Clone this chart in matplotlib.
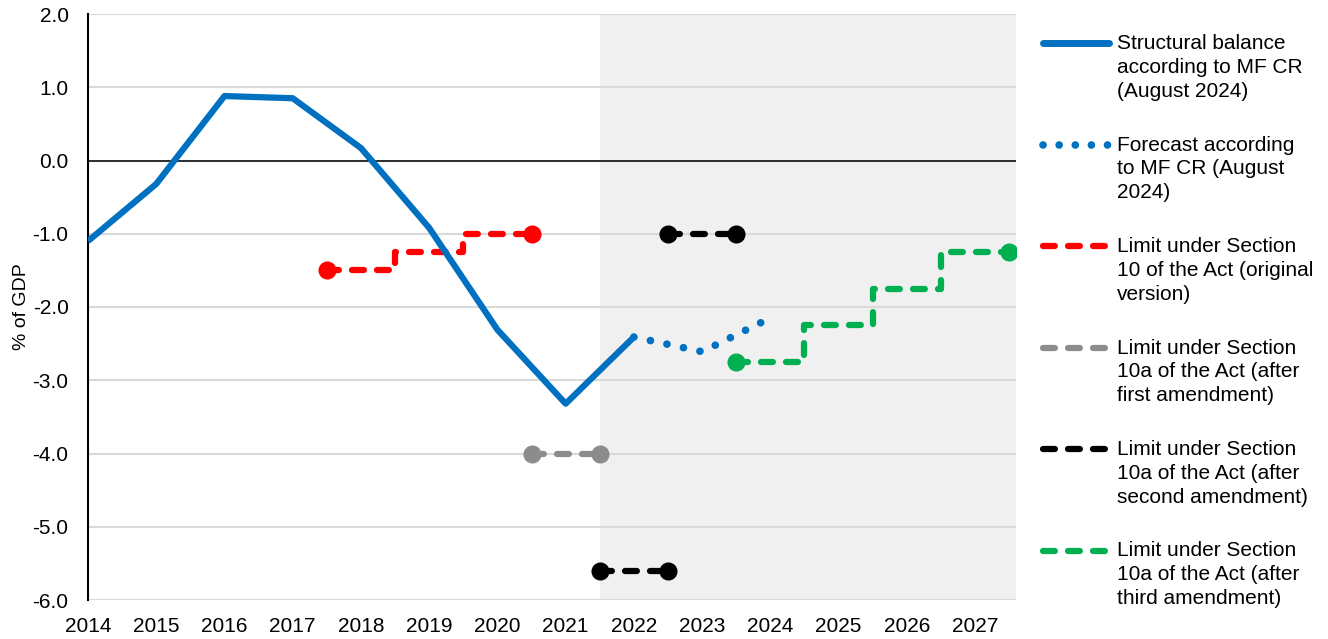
import numpy as np
import matplotlib
matplotlib.use("Agg")
import matplotlib.pyplot as plt
from matplotlib.lines import Line2D

plt.rcParams['font.family'] = ['Liberation Sans', 'DejaVu Sans']
plt.rcParams['axes.unicode_minus'] = False

# data
years = [2014, 2015, 2016, 2017, 2018, 2019, 2020, 2021, 2022]
balance = [-1.1, -0.32, 0.88, 0.85, 0.17, -0.92, -2.31, -3.32, -2.41]

fc_years = [2022, 2023, 2024]
forecast = [-2.41, -2.61, -2.15]

red_x = [2017.5, 2018.5, 2019.5, 2020.5]
red_y = [-1.5, -1.25, -1.0, -1.0]

gray_x = [2020.5, 2021.5]
gray_y = [-4.0, -4.0]

black1_x = [2021.5, 2022.5]
black1_y = [-5.6, -5.6]
black2_x = [2022.5, 2023.5]
black2_y = [-1.0, -1.0]

green_x = [2023.5, 2024.5, 2025.5, 2026.5, 2027.5]
green_y = [-2.75, -2.25, -1.75, -1.25, -1.25]

shade_start = 2021.5

labels = ["Structural balance\naccording to MF CR\n(August 2024)",
          "Forecast according\nto MF CR (August\n2024)",
          "Limit under Section\n10 of the Act (original\nversion)",
          "Limit under Section\n10a of the Act (after\nfirst amendment)",
          "Limit under Section\n10a of the Act (after\nsecond amendment)",
          "Limit under Section\n10a of the Act (after\nthird amendment)"]

BLUE = '#0070C0'
RED = '#FF0000'
GRAY = '#8C8C8C'
BLACK = '#000000'
GREEN = '#00B050'

W, H = 1328, 639
fig = plt.figure(figsize=(W / 100, H / 100), dpi=100)
ax = fig.add_axes([88 / W, 1 - 600 / H, (1016 - 88) / W, (600 - 14) / H])

xmax = 2027.6
ax.set_xlim(2014, xmax)
ax.set_ylim(-6, 2)
ax.axvspan(shade_start, xmax, color='#F0F0F0', zorder=0, lw=0)
ax.set_axisbelow(True)
ax.grid(axis='y', color='#D9D9D9', lw=1.5)
ax.axhline(0, color='black', lw=1.1, zorder=1)

dash = (0, (1.9, 2.1))
dot = (0, (0.01, 2.2))
lw_d = 4.5
ms = 12


def limit(xs, ys, c):
    ax.plot(xs, ys, color=c, lw=lw_d, ls=dash, dash_capstyle='round',
            drawstyle='steps-post', zorder=3)
    ax.plot([xs[0], xs[-1]], [ys[0], ys[-1]], 'o', color=c, ms=ms, zorder=4)


limit(red_x, red_y, RED)
limit(gray_x, gray_y, GRAY)
limit(black1_x, black1_y, BLACK)
limit(black2_x, black2_y, BLACK)
limit(green_x, green_y, GREEN)

ax.plot(fc_years, forecast, color=BLUE, lw=5.5, ls=dot, dash_capstyle='round', zorder=5)
ax.plot(years, balance, color=BLUE, lw=4.5, solid_capstyle='butt', zorder=6)

ax.set_xticks(range(2014, 2028))
ax.set_yticks(np.arange(-6, 2.1, 1))
ax.yaxis.set_major_formatter(matplotlib.ticker.FormatStrFormatter('%.1f'))
ax.tick_params(axis='both', length=0, labelsize=15)
ax.tick_params(axis='y', pad=14)
ax.tick_params(axis='x', pad=12)
for s in ['top', 'right', 'bottom']:
    ax.spines[s].set_visible(False)
ax.spines['left'].set_linewidth(1.5)
ax.set_ylabel('% of GDP', fontsize=14, labelpad=2)

# legend drawn by hand so the handle sits on the first text line
styles = [dict(color=BLUE, lw=5, solid_capstyle='round'),
          dict(color=BLUE, lw=5.5, ls=(0, (0.01, 2.1)), dash_capstyle='round'),
          dict(color=RED, lw=lw_d, ls=dash, dash_capstyle='round'),
          dict(color=GRAY, lw=lw_d, ls=dash, dash_capstyle='round'),
          dict(color=BLACK, lw=lw_d, ls=dash, dash_capstyle='round'),
          dict(color=GREEN, lw=lw_d, ls=dash, dash_capstyle='round')]
for i, (lab, st) in enumerate(zip(labels, styles)):
    yc = 43 + i * 101.5
    fig.add_artist(Line2D([1043 / W, 1109 / W], [1 - yc / H] * 2, **st))
    fig.text(1117 / W, 1 - (yc - 9) / H, lab, fontsize=15, va='top',
             ha='left', linespacing=1.32)

fig.savefig('out.png', dpi=100)
